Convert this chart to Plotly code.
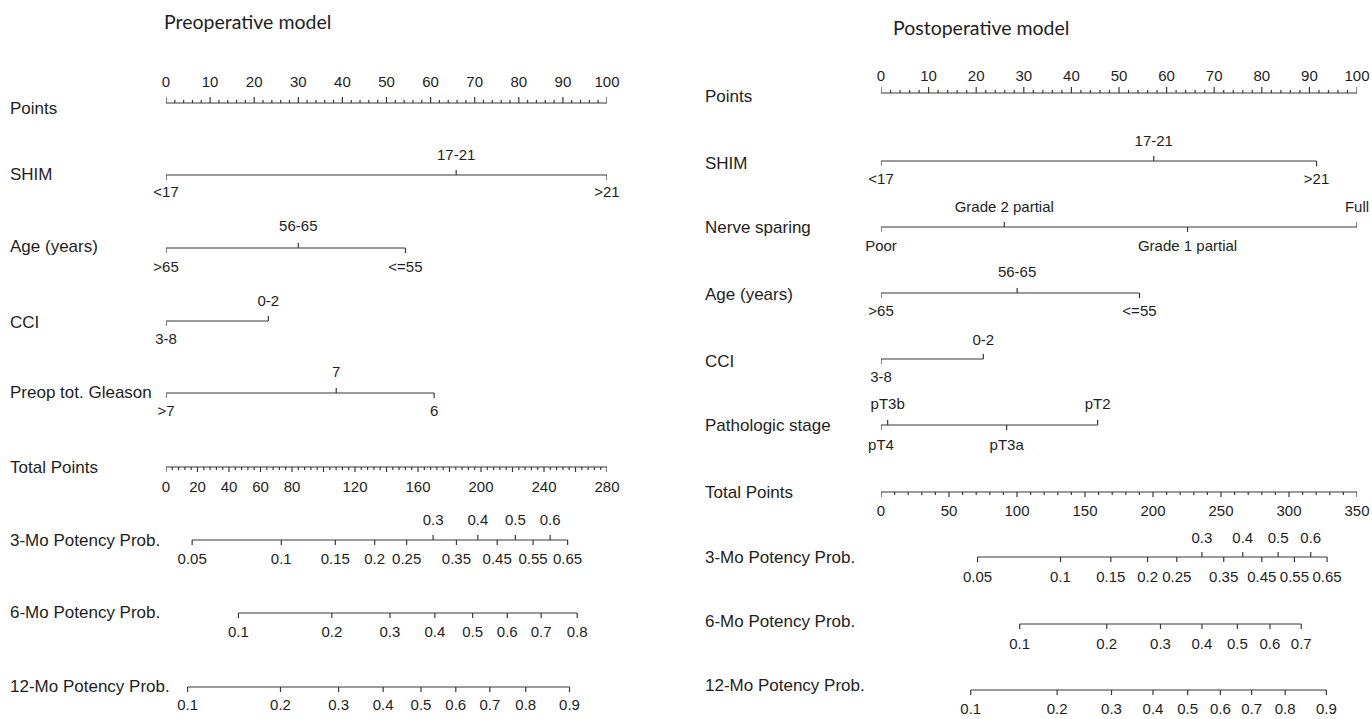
import plotly.graph_objects as go

W, H = 1372, 719          # page / figure size

# ---------------- data ----------------
points_labels = [0, 10, 20, 30, 40, 50, 60, 70, 80, 90, 100]

# Preoperative model
pre_shim_levels = ["<17", "17-21", ">21"]
pre_shim_points = [0, 65.8, 100]
pre_age_levels = [">65", "56-65", "<=55"]
pre_age_points = [0, 30.0, 54.3]
pre_cci_levels = ["3-8", "0-2"]
pre_cci_points = [0, 23.2]
pre_gleason_levels = [">7", "7", "6"]
pre_gleason_points = [0, 38.6, 60.8]
pre_total_labels = [0, 20, 40, 60, 80, 120, 160, 200, 240, 280]
pre_total_max = 280
pre_p3 = [0.05, 0.1, 0.15, 0.2, 0.25, 0.3, 0.35, 0.4, 0.45, 0.5, 0.55, 0.6, 0.65]
pre_p3_total = [16.6, 73.2, 107.5, 132.5, 152.8, 169.6, 184.4, 198.0, 210.3, 221.8, 233.1, 243.9, 255.0]
pre_p6 = [0.1, 0.2, 0.3, 0.4, 0.5, 0.6, 0.7, 0.8]
pre_p6_total = [46.0, 105.3, 142.2, 170.7, 194.7, 216.7, 238.2, 261.1]
pre_p12 = [0.1, 0.2, 0.3, 0.4, 0.5, 0.6, 0.7, 0.8, 0.9]
pre_p12_total = [13.7, 72.7, 109.6, 137.9, 161.9, 184.0, 205.6, 228.4, 256.2]

# Postoperative model
post_shim_levels = ["<17", "17-21", ">21"]
post_shim_points = [0, 57.3, 91.5]
post_nerve_levels = ["Poor", "Grade 2 partial", "Grade 1 partial", "Full"]
post_nerve_points = [0, 25.9, 64.4, 100]
post_age_levels = [">65", "56-65", "<=55"]
post_age_points = [0, 28.6, 54.3]
post_cci_levels = ["3-8", "0-2"]
post_cci_points = [0, 21.5]
post_stage_levels = ["pT4", "pT3b", "pT3a", "pT2"]
post_stage_points = [0, 1.4, 26.4, 45.5]
post_total_labels = [0, 50, 100, 150, 200, 250, 300, 350]
post_total_max = 350
post_p3 = [0.05, 0.1, 0.15, 0.2, 0.25, 0.3, 0.35, 0.4, 0.45, 0.5, 0.55, 0.6, 0.65]
post_p3_total = [71.0, 132.0, 169.0, 196.0, 217.5, 236.0, 252.0, 266.0, 280.0, 292.0, 304.0, 316.0, 328.0]
post_p6 = [0.1, 0.2, 0.3, 0.4, 0.5, 0.6, 0.7]
post_p6_total = [102.0, 166.0, 205.5, 236.0, 262.0, 286.0, 309.0]
post_p12 = [0.1, 0.2, 0.3, 0.4, 0.5, 0.6, 0.7, 0.8, 0.9]
post_p12_total = [66.0, 129.5, 169.5, 200.0, 225.5, 249.5, 272.5, 297.2, 327.5]

# ---------------- styling / layout constants ----------------
FONT = "Liberation Sans, Arial, Helvetica, sans-serif"
TITLE_FONT = "Lato, Open Sans, sans-serif"
LINE_C = "#383838"
TEXT_C = "#1e1e1e"
LBL_SIZE = 17
TICK_SIZE = 15
TICK_LEN = 5

fig = go.Figure()


def fmt(v):
    return "%g" % v


def add_line_and_ticks(xref, x0, x1, y, tick_x, tick_dirs, tick_lens):
    xs = [x0, x1, None]
    ys = [y, y, None]
    for tx, d, tl in zip(tick_x, tick_dirs, tick_lens):
        xs += [tx, tx, None]
        ys += [y, y + d * tl, None]
    fig.add_trace(go.Scatter(x=xs, y=ys, mode="lines", xaxis=xref, yaxis="y",
                             line=dict(color=LINE_C, width=1.2), cliponaxis=False,
                             hoverinfo="skip", showlegend=False))


def add_texts(xref, xs, ys, texts, size=TICK_SIZE):
    fig.add_trace(go.Scatter(x=xs, y=ys, text=texts, mode="text", xaxis=xref, yaxis="y",
                             textposition="middle center", cliponaxis=False,
                             textfont=dict(family=FONT, size=size, color=TEXT_C),
                             hoverinfo="skip", showlegend=False))


def add_name(xpx, y, text):
    fig.add_annotation(x=(xpx - 2) / W, y=y, xref="paper", yref="y", text=text,
                       showarrow=False, xanchor="left", yanchor="middle",
                       font=dict(family=FONT, size=LBL_SIZE, color=TEXT_C))


def add_title(xpx, y, text):
    fig.add_annotation(x=(xpx - 2) / W, y=y, xref="paper", yref="y", text=text,
                       showarrow=False, xanchor="left", yanchor="middle",
                       font=dict(family=TITLE_FONT, size=19.5, color=TEXT_C))


def points_axis(xref, line_y, label_y):
    minor = list(range(0, 101, 2))
    dirs = [-1] * len(minor)
    lens = [6 if m % 10 == 0 else 3 for m in minor]
    add_line_and_ticks(xref, 0, 100, line_y, minor, dirs, lens)
    add_texts(xref, points_labels, [label_y] * len(points_labels),
              [str(v) for v in points_labels])


def variable_row(xref, levels, pts, line_y, up_off=19, down_off=18):
    sides = [1 if i % 2 == 0 else -1 for i in range(len(levels))]  # 1 = below
    add_line_and_ticks(xref, min(pts), max(pts), line_y, pts, sides,
                       [TICK_LEN] * len(pts))
    ys = [line_y + down_off if s == 1 else line_y - up_off for s in sides]
    add_texts(xref, pts, ys, levels)


def total_axis(xref, maxv, minor_step, major_step, labels, line_y, lab_off):
    ticks = list(range(0, maxv + 1, minor_step))
    lens = [5 if t % major_step == 0 else 3 for t in ticks]
    add_line_and_ticks(xref, 0, maxv, line_y, ticks, [1] * len(ticks), lens)
    add_texts(xref, labels, [line_y + lab_off] * len(labels), [str(v) for v in labels])


def prob_row(xref, probs, tps, line_y, above=(), up_off=19, down_off=20):
    dirs = [-1 if p in above else 1 for p in probs]
    add_line_and_ticks(xref, tps[0], tps[-1], line_y, tps, dirs, [TICK_LEN] * len(tps))
    ys = [line_y - up_off if d == -1 else line_y + down_off for d in dirs]
    add_texts(xref, tps, ys, [fmt(p) for p in probs])


# ---------------- Preoperative (left) ----------------
add_title(164, 21, "Preoperative model")
LX = 10
add_name(LX, 108, "Points")
points_axis("x", 103, 83)
add_name(LX, 174, "SHIM")
variable_row("x", pre_shim_levels, pre_shim_points, 175)
add_name(LX, 246, "Age (years)")
variable_row("x", pre_age_levels, pre_age_points, 248, 21, 20)
add_name(LX, 322, "CCI")
variable_row("x", pre_cci_levels, pre_cci_points, 321, 19, 19)
add_name(LX, 392, "Preop tot. Gleason")
variable_row("x", pre_gleason_levels, pre_gleason_points, 393, 20, 19)
add_name(LX, 467, "Total Points")
total_axis("x2", pre_total_max, 4, 20, pre_total_labels, 467, 21)
add_name(LX, 540, "3-Mo Potency Prob.")
prob_row("x2", pre_p3, pre_p3_total, 540, above=(0.3, 0.4, 0.5, 0.6), up_off=18.5, down_off=20)
add_name(LX, 612, "6-Mo Potency Prob.")
prob_row("x2", pre_p6, pre_p6_total, 613, down_off=20)
add_name(LX, 686, "12-Mo Potency Prob.")
prob_row("x2", pre_p12, pre_p12_total, 687, down_off=19)

# ---------------- Postoperative (right) ----------------
add_title(893, 27, "Postoperative model")
RX = 705
add_name(RX, 96, "Points")
points_axis("x3", 93, 77)
add_name(RX, 163, "SHIM")
variable_row("x3", post_shim_levels, post_shim_points, 161, 19, 19)
add_name(RX, 227, "Nerve sparing")
variable_row("x3", post_nerve_levels, post_nerve_points, 227, 19, 20)
add_name(RX, 294, "Age (years)")
variable_row("x3", post_age_levels, post_age_points, 293, 20, 19)
add_name(RX, 361, "CCI")
variable_row("x3", post_cci_levels, post_cci_points, 359, 18, 19)
add_name(RX, 425, "Pathologic stage")
variable_row("x3", post_stage_levels, post_stage_points, 425, 20, 21)
add_name(RX, 492, "Total Points")
total_axis("x4", post_total_max, 10, 50, post_total_labels, 492, 20)
add_name(RX, 557, "3-Mo Potency Prob.")
prob_row("x4", post_p3, post_p3_total, 557, above=(0.3, 0.4, 0.5, 0.6), up_off=18, down_off=21)
add_name(RX, 621, "6-Mo Potency Prob.")
prob_row("x4", post_p6, post_p6_total, 624, down_off=21)
add_name(RX, 685, "12-Mo Potency Prob.")
prob_row("x4", post_p12, post_p12_total, 690, down_off=20)

# ---------------- axes ----------------
ldom = [166 / W, 607 / W]
rdom = [881 / W, 1357 / W]
hidden = dict(visible=False, showgrid=False, zeroline=False, fixedrange=True)
fig.update_layout(
    width=W, height=H,
    margin=dict(l=0, r=0, t=0, b=0),
    paper_bgcolor="white", plot_bgcolor="white",
    showlegend=False,
    xaxis=dict(domain=ldom, range=[0, 100], anchor="y", **hidden),
    xaxis2=dict(domain=ldom, range=[0, pre_total_max], anchor="y", overlaying="x", **hidden),
    xaxis3=dict(domain=rdom, range=[0, 100], anchor="y", **hidden),
    xaxis4=dict(domain=rdom, range=[0, post_total_max], anchor="y", overlaying="x3", **hidden),
    yaxis=dict(domain=[0, 1], range=[H, 0], **hidden),
)

fig.write_html("out.html", config={"displayModeBar": False},
               post_script="document.body.style.margin='0';document.body.style.overflow='hidden';")
